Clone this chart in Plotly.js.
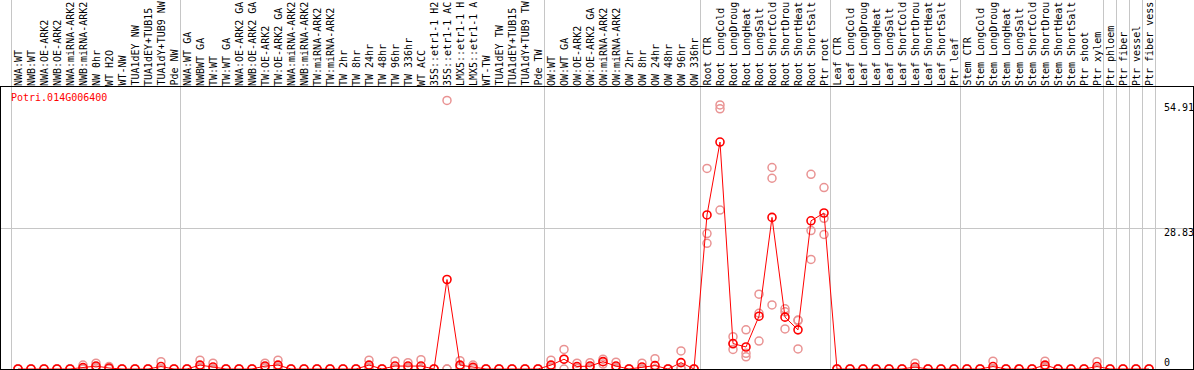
<!DOCTYPE html>
<html>
<head>
<meta charset="utf-8">
<script src="https://cdn.plot.ly/plotly-3.0.1.min.js"></script>
<style>html,body{margin:0;padding:0;background:#fff;}#chart{width:1194px;height:370px;}</style>
</head>
<body>
<div id="chart"></div>
<script>
// ---- data ----
const geneName = 'Potri.014G006400';
const groupNW = ['NWA:WT','NWB:WT','NWA:OE-ARK2','NWB:OE-ARK2','NWA:miRNA-ARK2','NWB:miRNA-ARK2','NW 0hr','WT H2O','WT-NW','TUA1dEY NW','TUA1dEY+TUB15','TUA1dY+TUB9 NW','Pde NW'];
const groupTW = ['NWA:WT GA','NWBWT GA','TW:WT','TW:WT GA','NWA:OE-ARK2 GA','NWB:OE-ARK2 GA','TW:OE-ARK2','TW:OE-ARK2 GA','NWA:miRNA-ARK2','NWB:miRNA-ARK2','TW:miRNA-ARK2','TW:miRNA-ARK2','TW 2hr','TW 8hr','TW 24hr','TW 48hr','TW 96hr','TW 336hr','WT ACC','35S::etr1-1 H2','35S::etr1-1 AC','LMX5::etr1-1 H','LMX5::etr1-1 A','WT-TW','TUA1dEY TW','TUA1dEY+TUB15','TUA1dY+TUB9 TW','Pde TW'];
const groupOW = ['OW:WT','OW:WT GA','OW:OE-ARK2','OW:OE-ARK2 GA','OW:miRNA-ARK2','OW:miRNA-ARK2','OW 2hr','OW 8hr','OW 24hr','OW 48hr','OW 96hr','OW 336hr'];
const groupRoot = ['Root CTR','Root LongCold','Root LongDroug','Root LongHeat','Root LongSalt','Root ShortCold','Root ShortDrou','Root ShortHeat','Root ShortSalt','Ptr root'];
const groupLeaf = ['Leaf CTR','Leaf LongCold','Leaf LongDroug','Leaf LongHeat','Leaf LongSalt','Leaf ShortCold','Leaf ShortDrou','Leaf ShortHeat','Leaf ShortSalt','Ptr leaf'];
const groupStem = ['Stem CTR','Stem LongCold','Stem LongDroug','Stem LongHeat','Stem LongSalt','Stem ShortCold','Stem ShortDrou','Stem ShortHeat','Stem ShortSalt','Ptr shoot','Ptr xylem'];
const groupCells = ['Ptr phloem','Ptr fiber','Ptr vessel','Ptr fiber vess'];

const meanNW = [0,0,0,0,0,0.3,0.6,0.2,0,0,0,0.5,0];
const rep1NW = [0,0,0,0,0,0.8,1.2,0.5,0,0,0,1.5,0];
const rep2NW = [0,0,0,0,0,0.1,0.4,0.1,0,0,0,0,0];
const rep3NW = [0,0,0,0,0,0,0.2,0,0,0,0,0,0];

const meanTW = [0,0.8,0.4,0,0,0,0.6,0.8,0,0,0,0,0,0,0.8,0,0.6,0.6,0.6,0,18.3,0.8,0.35,0,0,0,0,0];
const rep1TW = [0,1.8,1.2,0,0,0,1.2,1.8,0,0,0,0,0,0,1.8,0,1.6,1.3,1.9,0,54.91,1.7,0.8,0,0,0,0,0];
const rep2TW = [0,0.4,0,0,0,0,0.4,0.4,0,0,0,0,0,0,0.4,0,0.2,0.3,0,0,0,0.5,0.2,0,0,0,0,0];
const rep3TW = [0,0.2,0,0,0,0,0.2,0.2,0,0,0,0,0,0,0.2,0,0,0.2,0,0,0,0.2,0.05,0,0,0,0,0];

const meanOW = [0.8,2.0,0.5,0.6,1.5,0.6,0,0.4,0.7,0,1.3,0];
const rep1OW = [1.8,4.0,1.2,1.3,2.0,1.4,0,1.2,2.1,0,3.7,0];
const rep2OW = [0.4,2.0,0.2,0.3,1.5,0.3,0,0,0,0,0.2,0];
const rep3OW = [0.2,0,0.1,0.2,1.0,0.1,0,0,0,0,0,0];

const meanRoot = [31.5,46.4,5.2,4.5,10.8,31.0,10.6,8.0,30.3,31.9];
const rep1Root = [41.0,54.0,6.6,8.0,15.3,41.2,12.3,10.0,39.8,37.1];
const rep2Root = [27.7,53.2,4.0,3.2,11.4,39.0,11.7,4.1,28.3,30.8];
const rep3Root = [25.7,32.5,5.1,2.5,5.7,13.1,8.2,9.9,22.4,27.5];

const meanLeaf = [0,0,0,0,0,0,0.4,0,0,0];
const rep1Leaf = [0,0,0,0,0,0,1.2,0,0,0];
const rep2Leaf = [0,0,0,0,0,0,0,0,0,0];
const rep3Leaf = [0,0,0,0,0,0,0,0,0,0];

const meanStem = [0,0,0.5,0,0,0,0.8,0,0,0,0.5];
const rep1Stem = [0,0,1.6,0,0,0,1.6,0,0,0,1.5];
const rep2Stem = [0,0,0,0,0,0,0.5,0,0,0,0];
const rep3Stem = [0,0,0,0,0,0,0.3,0,0,0,0];

const meanCells = [0,0,0,0];
const rep1Cells = [0,0,0,0];
const rep2Cells = [0,0,0,0];
const rep3Cells = [0,0,0,0];

const yTickValues = [54.91, 28.83, 0];
const yTickLabels = ['54.91', '28.83', '0'];
const groupSizes = [13, 28, 12, 10, 10, 11, 1, 1, 1, 1];

// ---- build ----
const categories = [].concat(groupNW, groupTW, groupOW, groupRoot, groupLeaf, groupStem, groupCells);
const meanValues = [].concat(meanNW, meanTW, meanOW, meanRoot, meanLeaf, meanStem, meanCells);
const rep1 = [].concat(rep1NW, rep1TW, rep1OW, rep1Root, rep1Leaf, rep1Stem, rep1Cells);
const rep2 = [].concat(rep2NW, rep2TW, rep2OW, rep2Root, rep2Leaf, rep2Stem, rep2Cells);
const rep3 = [].concat(rep3NW, rep3TW, rep3OW, rep3Root, rep3Leaf, rep3Stem, rep3Cells);
const idx = categories.map((c, i) => i);

const repX = [].concat(idx, idx, idx);
const repY = [].concat(rep1, rep2, rep3);

const MONO = 'DejaVu Sans Mono, Liberation Mono, monospace';
const GRID = '#c6c6c6';

const traces = [
  {
    x: repX, y: repY, type: 'scatter', mode: 'markers',
    marker: {symbol: 'circle-open', size: 8, color: '#e99393', line: {width: 1.5, color: '#e99393'}},
    hoverinfo: 'y', showlegend: false
  },
  {
    x: idx, y: meanValues, type: 'scatter', mode: 'lines+markers',
    line: {color: '#ff0000', width: 1},
    marker: {symbol: 'circle-open', size: 8, color: '#ff0000', line: {width: 1.6, color: '#ff0000'}},
    hoverinfo: 'y', showlegend: false
  }
];

// group boundary lines
const shapes = [];
let b = -0.5;
shapes.push({type: 'line', xref: 'x', yref: 'paper', x0: b, x1: b, y0: 0, y1: 1.32, line: {color: GRID, width: 1}, layer: 'below'});
groupSizes.forEach(s => {
  b += s;
  shapes.push({type: 'line', xref: 'x', yref: 'paper', x0: b, x1: b, y0: 0, y1: 1.32, line: {color: GRID, width: 1}, layer: 'below'});
});

const annotations = [
  {text: geneName, xref: 'paper', yref: 'paper', x: 0.0067, y: 0.9645, xanchor: 'left', yanchor: 'middle',
   showarrow: false, font: {family: MONO, size: 10, color: '#ff0000'}}
];
// category labels (vertical, reading upward from the top axis line)
categories.forEach((c, i) => {
  annotations.push({text: c, xref: 'x', yref: 'paper', x: i, y: 1.0, yshift: 1, xanchor: 'center', yanchor: 'bottom',
    textangle: -90, showarrow: false, borderpad: 0, borderwidth: 0,
    font: {family: MONO, size: 10, color: '#000'}});
});
const shiftsY = [-7, -4, 7];
yTickValues.forEach((v, k) => {
  annotations.push({text: yTickLabels[k], xref: 'paper', yref: 'y', x: 0.9740, y: v, xanchor: 'left', yanchor: 'middle',
    yshift: shiftsY[k], showarrow: false, font: {family: MONO, size: 10, color: '#000'}});
});

const layout = {
  width: 1194, height: 370,
  margin: {l: 1, r: 1, t: 87, b: 1, pad: 0},
  paper_bgcolor: '#fff', plot_bgcolor: '#fff',
  showlegend: false,
  xaxis: {
    range: [-1.308, 90.385], side: 'top', tickmode: 'array', tickvals: idx, showticklabels: false, ticks: '',
    showgrid: false, zeroline: false, showline: true, mirror: true, linecolor: '#000', linewidth: 1,
    fixedrange: true
  },
  yaxis: {
    range: [0, 57.66], tickmode: 'array', tickvals: [yTickValues[1]], showticklabels: false, ticks: '',
    showgrid: true, gridcolor: GRID, gridwidth: 1, zeroline: false,
    showline: true, mirror: true, linecolor: '#000', linewidth: 1, fixedrange: true
  },
  shapes: shapes,
  annotations: annotations
};

Plotly.newPlot('chart', traces, layout, {displayModeBar: false, staticPlot: true});
</script>
</body>
</html>
